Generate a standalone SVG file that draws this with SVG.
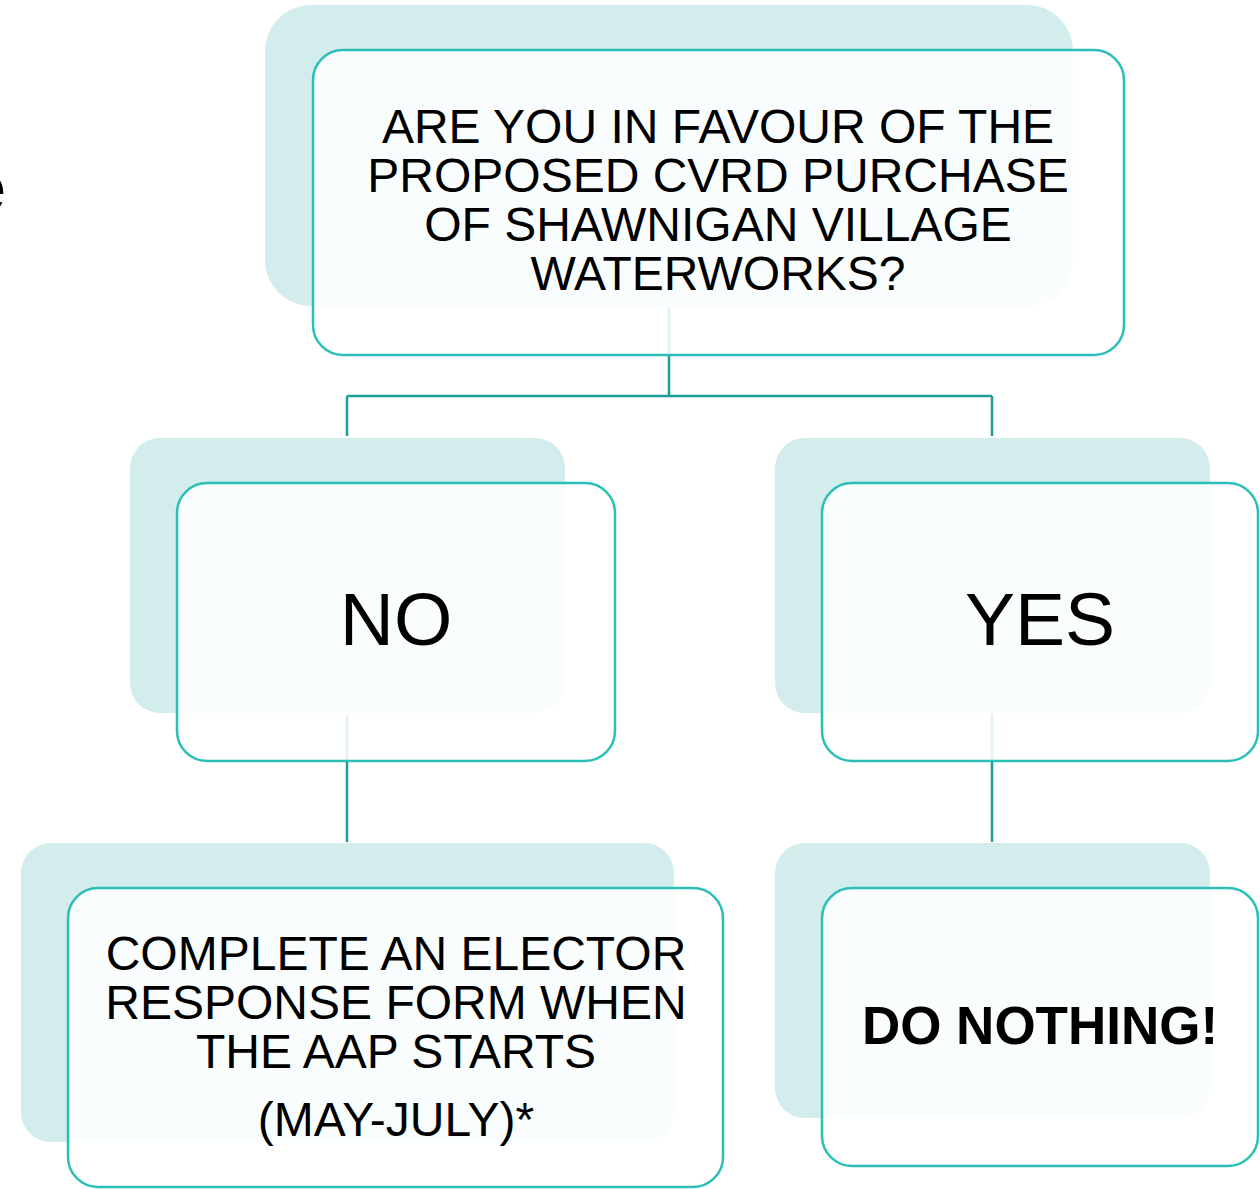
<svg xmlns="http://www.w3.org/2000/svg" width="1260" height="1189" viewBox="0 0 1260 1189">
<style>
.shadow{fill:#d3ecec}
.front{fill:#ffffff;fill-opacity:0.88;stroke:#2bbfb8;stroke-width:2.5}
.conn{fill:none;stroke:#1d9e98;stroke-width:2.5}
text{font-family:"Liberation Sans",Arial,sans-serif;fill:#000;text-anchor:middle}
.t48{font-size:48px}
.t76{font-size:75px}
.b50{font-size:53px;font-weight:bold}
</style>
<rect width="1260" height="1189" fill="#ffffff"/>
<text x="6" y="210" style="font-size:64px;text-anchor:end">e</text>
<g id="connectors">
<path class="conn" d="M669 307 V396 M347 396 H992 M347 396 V436 M992 396 V436"/>
<path class="conn" d="M347 714 V842"/>
<path class="conn" d="M992 714 V842"/>
</g>
<g id="question">
<rect class="shadow" x="265" y="5" width="808" height="301" rx="46"/>
<rect class="front" x="313" y="50" width="811" height="305" rx="30"/>
<text class="t48" x="718" y="143">ARE YOU IN FAVOUR OF THE</text>
<text class="t48" x="718" y="192">PROPOSED CVRD PURCHASE</text>
<text class="t48" x="718" y="241">OF SHAWNIGAN VILLAGE</text>
<text class="t48" x="718" y="290">WATERWORKS?</text>
</g>
<g id="no">
<rect class="shadow" x="130" y="438" width="435" height="275" rx="30"/>
<rect class="front" x="177" y="483" width="438" height="278" rx="30"/>
<text class="t76" x="396" y="645">NO</text>
</g>
<g id="yes">
<rect class="shadow" x="775" y="438" width="435" height="275" rx="30"/>
<rect class="front" x="822" y="483" width="436" height="278" rx="30"/>
<text class="t76" x="1040" y="645">YES</text>
</g>
<g id="complete-form">
<rect class="shadow" x="21" y="843" width="653" height="299" rx="30"/>
<rect class="front" x="68" y="888" width="655" height="299" rx="30"/>
<text class="t48" x="396" y="970">COMPLETE AN ELECTOR</text>
<text class="t48" x="396" y="1019">RESPONSE FORM WHEN</text>
<text class="t48" x="396" y="1068">THE AAP STARTS</text>
<text class="t48" x="396" y="1136">(MAY-JULY)*</text>
</g>
<g id="do-nothing">
<rect class="shadow" x="775" y="843" width="435" height="275" rx="30"/>
<rect class="front" x="822" y="888" width="436" height="278" rx="30"/>
<text class="b50" x="1040" y="1044">DO NOTHING!</text>
</g>
</svg>
